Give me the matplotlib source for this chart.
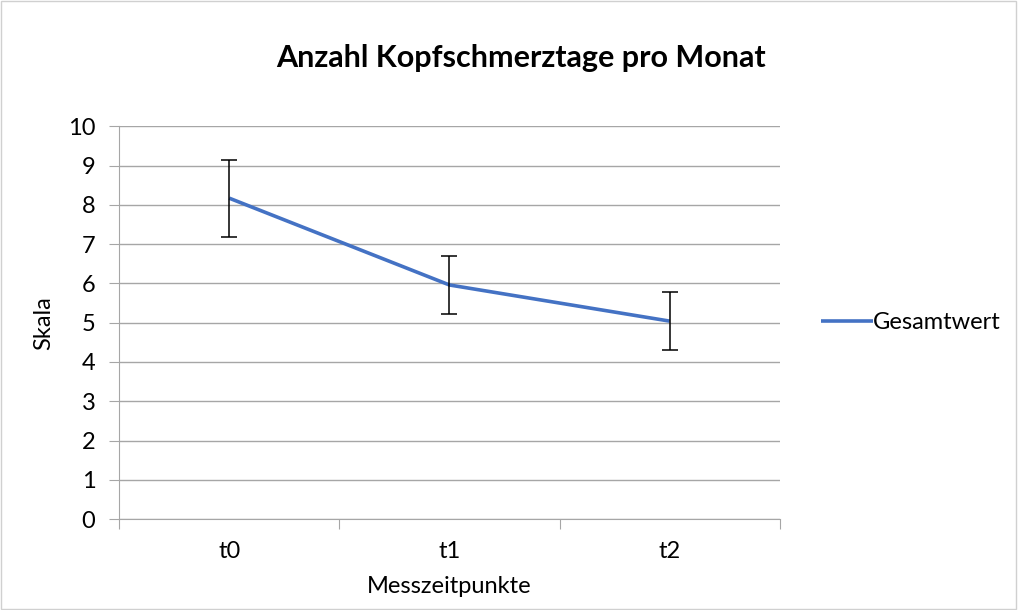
import matplotlib.pyplot as plt
from matplotlib.patches import Rectangle

# Data
zeitpunkte = ["t0", "t1", "t2"]
gesamtwert = [8.17, 5.96, 5.04]
fehler = [0.98, 0.74, 0.74]

plt.rcParams["font.family"] = ["Lato", "DejaVu Sans"]

fig = plt.figure(figsize=(10.18, 6.1), dpi=100)
ax = fig.add_axes([0.117, 0.149, 0.649, 0.644])

x = range(len(zeitpunkte))
ax.plot(x, gesamtwert, color="#4472C4", linewidth=2.6, label="Gesamtwert",
        solid_capstyle="butt", zorder=3)
ax.errorbar(x, gesamtwert, yerr=fehler, fmt="none", ecolor="black",
            elinewidth=1.1, capsize=6, capthick=1.1, zorder=4)

ax.set_xlim(-0.5, 2.5)
ax.set_ylim(0, 10)
ax.set_yticks(range(0, 11))
ax.set_xticks([-0.5, 0.5, 1.5, 2.5])
ax.set_xticklabels([])
ax.set_xticks(list(x), minor=True)
ax.set_xticklabels(zeitpunkte, minor=True)
ax.tick_params(axis="x", which="major", length=7, color="#a6a6a6")
ax.tick_params(axis="x", which="minor", length=0, pad=16, labelsize=17)
ax.tick_params(axis="y", length=7, color="#a6a6a6", labelsize=17, pad=10)

ax.grid(axis="y", color="#a6a6a6", linewidth=1)
ax.set_axisbelow(True)
for s in ["top", "right"]:
    ax.spines[s].set_visible(False)
for s in ["left", "bottom"]:
    ax.spines[s].set_color("#a6a6a6")

ax.set_xlabel("Messzeitpunkte", fontsize=17, labelpad=10)
ax.set_ylabel("Skala", fontsize=17, labelpad=10)
fig.text(0.512, 0.905, "Anzahl Kopfschmerztage pro Monat", ha="center",
         va="center", fontsize=22, fontweight="bold")

ax.legend(loc="center left", bbox_to_anchor=(1.03, 0.5), frameon=False,
          fontsize=17, handlelength=2.2, handletextpad=0.0)

fig.patches.append(Rectangle((0.001, 0.001), 0.997, 0.997, transform=fig.transFigure,
                             fill=False, edgecolor="#d0d0d0", linewidth=1))

fig.savefig("out.png", dpi=100)
